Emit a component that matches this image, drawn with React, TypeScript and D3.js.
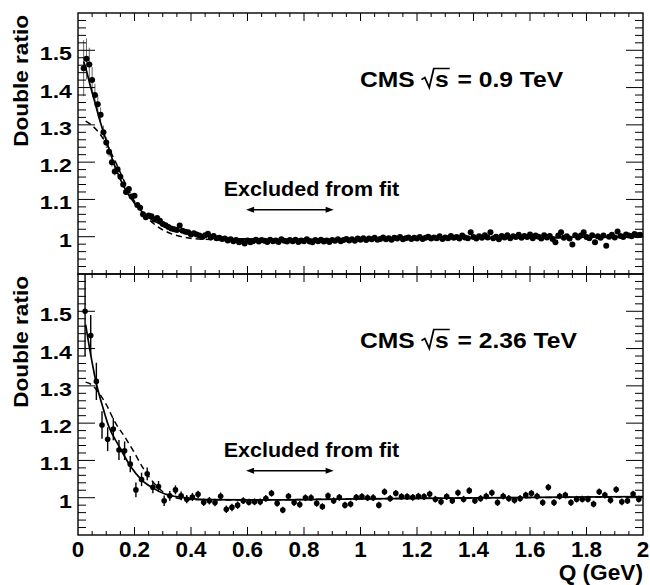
import React, { useEffect, useRef } from 'react';
import * as d3 from 'd3';

const W = 650;
const H = 585;

// 0.9 TeV sample, bins of 0.01 GeV starting at Q = 0.02
const topStart = 0.02;
const topStep = 0.01;
const topRatio = [
  1.452, 1.477, 1.462, 1.420, 1.380, 1.355, 1.327, 1.280, 1.253, 1.228,
  1.200, 1.175, 1.181, 1.161, 1.140, 1.120, 1.128, 1.108, 1.110, 1.085,
  1.078, 1.060, 1.052, 1.057, 1.055, 1.046, 1.050, 1.043, 1.034, 1.031,
  1.026, 1.022, 1.020, 1.018, 1.030, 1.016, 1.013, 1.012, 1.006, 1.009,
  1.006, 1.003, 0.999,
  1.004, 1.008, 0.998, 1.002, 0.996, 0.997, 0.994, 0.995, 0.990, 0.993,
  0.988, 0.991, 0.985, 0.988, 0.982, 0.990, 0.985, 0.988, 0.992, 0.987,
  0.991, 0.989, 0.986, 0.992, 0.988, 0.990, 0.986, 0.993, 0.989, 0.987,
  0.991, 0.988, 0.992, 0.986, 0.990, 0.988, 0.993, 0.987, 0.985, 0.991,
  0.988, 0.992, 0.987, 0.990, 0.986, 0.991, 0.989, 0.993, 0.988, 0.991,
  0.994, 0.990, 0.993, 0.989, 0.995, 0.992, 0.996, 0.991, 0.995, 0.993,
  0.997, 0.992, 0.994, 0.998, 0.993, 0.996, 0.992, 0.997, 0.995, 0.999,
  0.993, 0.996, 0.998, 0.994, 0.997, 0.995, 0.999, 0.994, 0.997, 1.000,
  0.995, 0.998, 0.996, 1.001, 0.994, 0.998, 0.996, 1.002, 0.997, 0.999,
  0.995, 1.003, 0.998, 0.996, 1.012, 0.999, 0.995, 1.001, 0.997, 1.004,
  0.998, 1.012, 0.996, 1.000, 0.993, 1.002, 0.998, 1.004, 0.996, 1.001,
  0.999, 1.005, 0.997, 1.002, 0.999, 1.006, 0.996, 1.003, 1.000, 0.995,
  1.004, 0.998, 1.002, 0.994, 0.985, 1.003, 1.012, 0.997, 1.001, 0.995,
  0.979, 1.004, 0.998, 1.003, 1.012, 0.999, 0.996, 1.004, 0.985, 1.001,
  0.997, 1.003, 0.976, 1.000, 1.005, 0.998, 1.014, 1.002, 0.999, 1.006,
  1.003, 1.001, 1.007, 1.004, 1.005
];
// only the first bins have errors bigger than the marker
const topErr = [0.075, 0.055, 0.045, 0.035, 0.03, 0.025, 0.02, 0.018, 0.015, 0.013, 0.012, 0.011, 0.01, 0.009, 0.008];

// 2.36 TeV sample, bins of 0.02 GeV starting at Q = 0.025
const botStart = 0.025;
const botStep = 0.02;
const botRatio = [
  1.500, 1.435, 1.312, 1.195, 1.157, 1.184, 1.128, 1.126, 1.090, 1.021,
  1.049, 1.064, 1.028, 1.030, 0.992, 1.005, 1.021, 1.005, 0.996, 1.002,
  1.009, 0.988, 0.992, 0.987, 1.004, 0.969, 0.974, 0.980, 0.992, 0.988,
  0.989, 0.989, 0.998, 1.012, 0.985, 0.967, 1.004, 0.987, 0.982, 1.000,
  1.000, 0.985, 0.976, 1.005, 0.992, 1.001, 0.980, 0.983, 1.001, 1.003,
  1.000, 1.000, 0.980, 1.016, 0.998, 1.012, 1.003, 1.003, 1.001, 1.004,
  1.003, 1.010, 0.996, 0.989, 1.003, 0.992, 1.013, 0.996, 1.019, 0.992,
  0.998, 1.004, 1.013, 0.987, 1.004, 0.998, 0.993, 0.998, 1.007, 1.012,
  1.004, 0.987, 1.028, 0.987, 1.004, 1.007, 0.987, 0.996, 0.996, 0.996,
  0.983, 1.016, 1.007, 0.993, 1.022, 0.989, 0.992, 1.010, 0.996
];
const botErr = [
  0.12, 0.055, 0.05, 0.037, 0.032, 0.03, 0.027, 0.025, 0.022, 0.02,
  0.018, 0.017, 0.016, 0.015, 0.014, 0.013, 0.012, 0.012, 0.011, 0.011,
  0.010, 0.010, 0.010, 0.010, 0.010, 0.010, 0.010, 0.010, 0.009, 0.009,
  0.009, 0.009, 0.009, 0.009, 0.009, 0.009, 0.009, 0.009, 0.009, 0.009,
  0.009, 0.009, 0.009, 0.009, 0.009, 0.009, 0.009, 0.009, 0.009, 0.009,
  0.009, 0.009, 0.009, 0.009, 0.009, 0.009, 0.009, 0.009, 0.009, 0.009,
  0.009, 0.009, 0.009, 0.009, 0.009, 0.009, 0.009, 0.009, 0.009, 0.009,
  0.009, 0.009, 0.009, 0.009, 0.009, 0.009, 0.009, 0.009, 0.009, 0.009,
  0.009, 0.009, 0.009, 0.009, 0.009, 0.009, 0.009, 0.009, 0.009, 0.009,
  0.009, 0.009, 0.009, 0.009, 0.009, 0.009, 0.009, 0.009, 0.009
];

// fit curves: [Q, ratio]
const topFitExp = [[0.02, 1.47], [0.03, 1.445], [0.04, 1.415], [0.06, 1.36], [0.08, 1.305], [0.10, 1.258], [0.13, 1.19], [0.16, 1.138], [0.20, 1.09], [0.25, 1.052], [0.30, 1.031], [0.37, 1.013], [0.45, 1.002], [0.60, 0.994], [0.80, 0.993], [1.0, 0.994], [1.5, 0.997], [2.0, 1.0]];
const topFitGaus = [[0.027, 1.31], [0.05, 1.298], [0.075, 1.278], [0.10, 1.25], [0.13, 1.205], [0.16, 1.155], [0.20, 1.095], [0.24, 1.055], [0.28, 1.028], [0.33, 1.008], [0.38, 0.998], [0.45, 0.993], [0.60, 0.992], [1.0, 0.993], [2.0, 0.999]];
const botFitExp = [[0.027, 1.464], [0.046, 1.379], [0.066, 1.303], [0.087, 1.245], [0.107, 1.195], [0.146, 1.137], [0.187, 1.083], [0.225, 1.048], [0.267, 1.025], [0.308, 1.010], [0.367, 1.001], [0.45, 0.995], [0.6, 0.994], [1.0, 0.997], [2.0, 1.003]];
const botFitGaus = [[0.027, 1.31], [0.05, 1.302], [0.07, 1.285], [0.10, 1.25], [0.13, 1.204], [0.17, 1.158], [0.20, 1.12], [0.23, 1.08], [0.27, 1.038], [0.31, 1.011], [0.35, 0.999], [0.40, 0.995], [0.6, 0.994], [1.0, 0.997], [2.0, 1.002]];

const yTickVals = [1, 1.1, 1.2, 1.3, 1.4, 1.5];
const yTickLabels = ['1', '1.1', '1.2', '1.3', '1.4', '1.5'];
const xTickVals = [0, 0.2, 0.4, 0.6, 0.8, 1, 1.2, 1.4, 1.6, 1.8, 2];
const xTickLabels = ['0', '0.2', '0.4', '0.6', '0.8', '1', '1.2', '1.4', '1.6', '1.8', '2'];
const energies = ['0.9', '2.36'];
const excluded = [0.595, 0.905];

const FONT = "'Liberation Sans', Arial, Helvetica, sans-serif";

// bold text, stretched along its own direction like the original figure
function label(g: any, tx: number, ty: number, str: string, size: number, sx: number, anchor: string, rot = 0) {
  return g.append('text')
    .attr('transform', `translate(${tx},${ty}) rotate(${rot}) scale(${sx},1)`)
    .attr('text-anchor', anchor)
    .attr('font-family', FONT).attr('font-weight', 'bold')
    .attr('font-size', size)
    .text(str);
}

export default function App() {
  const ref = useRef<SVGSVGElement>(null);

  useEffect(() => {
    const svg = d3.select(ref.current);
    svg.selectAll('*').remove();

    const x = d3.scaleLinear().domain([0, 2]).range([78, 643]);

    const panels = [
      { top: 13, bottom: 274, ratio: topRatio, err: topErr, start: topStart, step: topStep, exp: topFitExp, gaus: topFitGaus, energy: energies[0], r: 3 },
      { top: 274, bottom: 535, ratio: botRatio, err: botErr, start: botStart, step: botStep, exp: botFitExp, gaus: botFitGaus, energy: energies[1], r: 2.8 }
    ];

    panels.forEach((p, k) => {
      const y = d3.scaleLinear().domain([0.9, 1.6]).range([p.bottom, p.top]);
      const g = svg.append('g');

      const clipId = 'clip' + k;
      svg.append('clipPath').attr('id', clipId)
        .append('rect')
        .attr('x', x(0)).attr('y', p.top)
        .attr('width', x(2) - x(0)).attr('height', p.bottom - p.top);

      const data = g.append('g').attr('clip-path', `url(#${clipId})`);

      // error bars
      p.err.forEach((e, i) => {
        const q = p.start + i * p.step;
        const v = p.ratio[i];
        data.append('line')
          .attr('x1', x(q)).attr('x2', x(q))
          .attr('y1', y(v - e)).attr('y2', y(v + e))
          .attr('stroke', k === 0 ? '#666' : '#000')
          .attr('stroke-width', k === 0 ? 1 : 1.4);
      });

      // markers
      data.selectAll('circle.pt')
        .data(p.ratio)
        .enter().append('circle')
        .attr('class', 'pt')
        .attr('cx', (d, i) => x(p.start + i * p.step))
        .attr('cy', d => y(d))
        .attr('r', p.r)
        .attr('fill', '#000');

      const line = d3.line<number[]>()
        .x(d => x(d[0]))
        .y(d => y(d[1]))
        .curve(d3.curveMonotoneX);

      data.append('path')
        .attr('d', line(p.gaus))
        .attr('fill', 'none')
        .attr('stroke', '#000')
        .attr('stroke-width', 1.5)
        .attr('stroke-dasharray', '6,4');

      data.append('path')
        .attr('d', line(p.exp))
        .attr('fill', 'none')
        .attr('stroke', '#000')
        .attr('stroke-width', 1.7);

      // frame
      g.append('rect')
        .attr('x', x(0)).attr('y', p.top)
        .attr('width', x(2) - x(0)).attr('height', p.bottom - p.top)
        .attr('fill', 'none')
        .attr('stroke', '#000')
        .attr('stroke-width', 1.4);

      // y ticks, both sides
      const yMinor = d3.range(0.92, 1.599, 0.02);
      yMinor.forEach(v => {
        const major = Math.abs(Math.round(v * 10) - v * 10) < 1e-6;
        const len = major ? 17 : 8;
        g.append('line')
          .attr('x1', x(0)).attr('x2', x(0) + len)
          .attr('y1', y(v)).attr('y2', y(v))
          .attr('stroke', '#000').attr('stroke-width', 1);
        g.append('line')
          .attr('x1', x(2)).attr('x2', x(2) - len)
          .attr('y1', y(v)).attr('y2', y(v))
          .attr('stroke', '#000').attr('stroke-width', 1);
      });

      // x ticks, top and bottom
      const xMinor = d3.range(0.05, 1.999, 0.05);
      xMinor.forEach(q => {
        const major = Math.abs(Math.round(q * 5) - q * 5) < 1e-6;
        const len = major ? 8 : 4;
        g.append('line')
          .attr('x1', x(q)).attr('x2', x(q))
          .attr('y1', p.bottom).attr('y2', p.bottom - len)
          .attr('stroke', '#000').attr('stroke-width', 1);
        g.append('line')
          .attr('x1', x(q)).attr('x2', x(q))
          .attr('y1', p.top).attr('y2', p.top + len)
          .attr('stroke', '#000').attr('stroke-width', 1);
      });

      // y labels
      yTickVals.forEach((v, i) => {
        label(g, 72, y(v) + 10, yTickLabels[i], 19, 1.22, 'end');
      });

      label(g, 28, p.top + 2, 'Double ratio', 20, 1.13, 'end', -90);

      // CMS label with sqrt(s)
      const lab = g.append('g')
        .attr('transform', `translate(360,${y(1.4) - 1}) scale(1.12,1)`)
        .attr('font-family', FONT).attr('font-weight', 'bold')
        .attr('font-size', 22);
      const t1 = lab.append('text').attr('x', 0).attr('y', 0).text('CMS');
      const w1 = (t1.node() as SVGTextElement).getComputedTextLength();
      const rx = w1 + 6;
      const sText = lab.append('text').attr('x', rx + 12).attr('y', 0).text('s');
      const ws = (sText.node() as SVGTextElement).getComputedTextLength();
      lab.append('path')
        .attr('d', `M${rx},-7 L${rx + 3},-9 L${rx + 7},1 L${rx + 11},-18 L${rx + 13 + ws},-18`)
        .attr('fill', 'none').attr('stroke', '#000').attr('stroke-width', 1.6);
      lab.append('text').attr('x', rx + 13 + ws + 7).attr('y', 0).text(`= ${p.energy} TeV`);

      // excluded region
      label(g, x(0.516), y(1.11), 'Excluded from fit', 20, 1.075, 'start');

      const ay = y(1.072);
      const xa = x(excluded[0]);
      const xb = x(excluded[1]);
      g.append('line')
        .attr('x1', xa + 4).attr('x2', xb - 4)
        .attr('y1', ay).attr('y2', ay)
        .attr('stroke', '#000').attr('stroke-width', 1.5);
      g.append('path')
        .attr('d', `M${xa},${ay} L${xa + 8},${ay - 3} L${xa + 8},${ay + 3} Z M${xb},${ay} L${xb - 8},${ay - 3} L${xb - 8},${ay + 3} Z`)
        .attr('fill', '#000');

      if (k === 1) {
        xTickVals.forEach((q, i) => {
          label(g, x(q), 557, xTickLabels[i], 22, 1.02, 'middle');
        });
        label(g, 643, 580, 'Q (GeV)', 22, 1.03, 'end');
      }
    });
  }, []);

  return (
    <svg ref={ref} width={W} height={H} style={{ position: 'absolute', left: 0, top: 0, background: '#fff' }} />
  );
}
